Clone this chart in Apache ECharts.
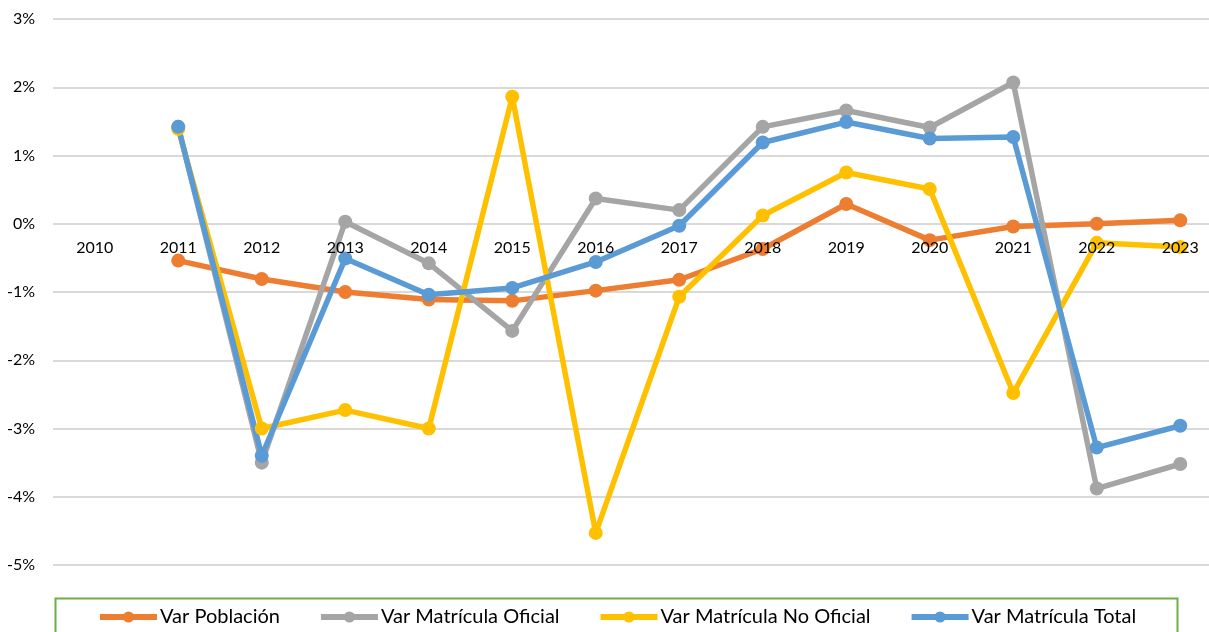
<!DOCTYPE html>
<html><head><meta charset="utf-8">
<script src="https://cdn.jsdelivr.net/npm/echarts@6/dist/echarts.min.js"></script>
<style>html,body{margin:0;padding:0;background:#fff}#c{width:1209px;height:632px}</style>
</head><body><div id="c"></div>
<script>
const years = ['2010','2011','2012','2013','2014','2015','2016','2017','2018','2019','2020','2021','2022','2023'];
const varPoblacion = [null,-0.54,-0.81,-1.00,-1.11,-1.13,-0.98,-0.82,-0.37,0.29,-0.24,-0.04,0.00,0.05];
const varOficial = [null,1.42,-3.50,0.03,-0.58,-1.57,0.37,0.20,1.42,1.66,1.41,2.07,-3.88,-3.52];
const varNoOficial = [null,1.39,-3.00,-2.73,-3.00,1.86,-4.53,-1.07,0.12,0.75,0.51,-2.48,-0.28,-0.34];
const varTotal = [null,1.42,-3.40,-0.51,-1.04,-0.94,-0.56,-0.03,1.19,1.49,1.25,1.27,-3.28,-2.96];
const seriesNames = ['Var Población','Var Matrícula Oficial','Var Matrícula No Oficial','Var Matrícula Total'];
const colors = ['#ED7D31','#A5A5A5','#FFC000','#5B9BD5'];
const FONT = 'Lato';
const chart = echarts.init(document.getElementById('c'));
function mk(name, data, color){
  return {name, type:'line', data, color, symbol:'circle', symbolSize:14,
    lineStyle:{width:5.5,color}, itemStyle:{color}, connectNulls:false, animation:false};
}
chart.setOption({
  animation:false,
  grid:{left:53,width:1169,top:19,height:546,containLabel:false,outerBoundsMode:'none'},
  xAxis:{type:'category',data:years,boundaryGap:true,offset:-341,z:10,
    axisLine:{show:false},
    axisTick:{show:false},
    axisLabel:{color:'#000',fontFamily:FONT,fontSize:16,margin:16,interval:0}},
  yAxis:{type:'value',min:-5,max:3,interval:1,
    axisLine:{show:false},axisTick:{show:false},
    splitLine:{lineStyle:{color:'#d9d9d9',width:2}},
    axisLabel:{color:'#000',fontFamily:FONT,fontSize:16,margin:18,formatter:v=>v+'%'}},
  legend:{data:seriesNames,top:607,left:97,padding:0,itemWidth:57,itemHeight:14,itemGap:38,
    lineStyle:{width:6},
    textStyle:{fontFamily:FONT,fontSize:20,color:'#000',padding:[0,0,0,-2]}},
  graphic:[{type:'rect',shape:{x:55.5,y:598.5,width:1122,height:60},
    style:{fill:'none',stroke:'#70AD47',lineWidth:2},z:-1}],
  series:[mk(seriesNames[0],varPoblacion,colors[0]),mk(seriesNames[1],varOficial,colors[1]),
    mk(seriesNames[2],varNoOficial,colors[2]),mk(seriesNames[3],varTotal,colors[3])]
});
</script></body></html>
